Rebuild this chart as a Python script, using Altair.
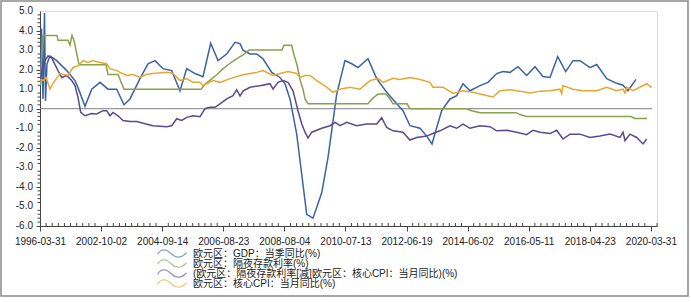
import json
import altair as alt
import pandas as pd

# x = observation index along the time axis (tick labels every 61.09 units)
tick_labels = ["1996-03-31", "2002-10-02", "2004-09-14", "2006-08-23", "2008-08-04",
               "2010-07-13", "2012-06-19", "2014-06-02", "2016-05-11", "2018-04-23", "2020-03-31"]
y_values = [-6, -5, -4, -3, -2, -1, 0, 1, 2, 3, 4, 5]
y_texts = ["-6.0", "-5.0", "-4.0", "-3.0", "-2.0", "-1.0", "0.0", "1.0", "2.0", "3.0", "4.0", "5.0"]

names = ["欧元区：GDP：当季同比(%)",
         "欧元区：隔夜存款利率(%)",
         "(欧元区：隔夜存款利率[减]欧元区：核心CPI：当月同比)(%)",
         "欧元区：核心CPI：当月同比(%)"]
colors = ["#3b63a5", "#87a24c", "#5a4a8c", "#e9a630"]

gdp_x = [0.5, 1.5, 3, 4.5, 5.5, 7, 10, 16.7, 26.7, 35, 38, 45, 51.7, 60, 68, 76.7, 84, 90, 100, 108, 115, 123,
         131.7, 140, 146.7, 155, 163, 170.7, 178, 186.7, 195, 200, 203, 210, 216.7, 223, 231.7, 240, 245, 250,
         256.7, 266.7, 273, 281.7, 288, 296.7, 305, 311.7, 318, 328, 336.7, 346.7, 356.7, 363, 370, 380, 386.7,
         392, 396.7, 401.7, 410, 416.7, 423, 430, 440, 448, 456.7, 463, 470, 478, 486.7, 495, 503, 510, 517.7,
         525.7, 533, 540, 550, 556.7, 566.7, 576.7, 583, 588, 596]
gdp_y = [1.3, 4.1, 0.5, 4.9, 0.4, 2.3, 2.7, 2.46, 1.95, 1.44, 1.08, 0.12, 1.0, 1.35, 1.0, 1.0, 0.2, 0.5, 1.54, 2.3,
         2.46, 2.05, 1.95, 0.92, 2.05, 1.8, 1.64, 3.35, 2.46, 2.8, 3.4, 3.33, 3.0, 2.8, 2.8, 2.55, 1.86, 1.6, 1.27,
         0.5, -1.3, -5.4, -5.6, -4.3, -2.5, 0.75, 2.46, 2.3, 2.1, 2.56, 1.54, 0.84, 0.25, -0.1, -0.87, -1.0, -1.4,
         -1.8, -0.96, -0.1, 0.5, 0.67, 1.28, 0.92, 1.18, 1.35, 1.8, 1.9, 1.86, 2.15, 1.7, 2.15, 1.65, 1.6, 2.67,
         1.9, 2.46, 2.46, 2.1, 2.26, 1.54, 1.3, 1.2, 0.92, 1.5]

dep_x = [0.5, 2.5, 17, 18, 28, 30, 32, 34, 36, 39, 66, 68, 78, 84, 161, 165, 171, 177, 182, 188, 195, 203, 209,
         242, 244, 251.7, 254, 257, 260, 263, 265, 268, 328, 332, 338, 346, 350, 353, 367, 370, 426.7, 431.7,
         440, 476, 480, 486.7, 591, 595, 607]
dep_y = [1.2, 3.75, 3.75, 3.5, 3.5, 3.25, 3.75, 3.5, 3.0, 2.25, 2.25, 1.75, 1.75, 1.0, 1.0, 1.25, 1.5, 1.75,
         2.0, 2.25, 2.5, 2.75, 3.0, 3.0, 3.25, 3.25, 2.75, 2.25, 1.5, 1.0, 0.5, 0.25, 0.25, 0.5, 0.75, 0.75, 0.5,
         0.25, 0.25, 0.0, 0.0, -0.1, -0.2, -0.2, -0.3, -0.4, -0.4, -0.5, -0.5]

cpi_x = [0.5, 3.3, 6, 10, 13, 20, 28, 33, 38, 43, 48, 53, 60, 66.7, 70, 76.7, 80, 86.7, 93, 100, 106, 113, 126.7,
         133, 140, 146.7, 153, 160, 163, 173, 180, 190, 200, 210, 216.7, 223, 233, 240, 248, 256.7, 260, 265,
         270, 276.7, 286.7, 293, 300, 310, 320, 330, 338, 343, 353, 360, 370, 380, 390, 393, 403, 413, 423, 433,
         443, 453, 460, 470, 480, 490, 500, 510, 520, 521.7, 523, 533, 543, 556.7, 566.7, 576.7, 583, 585,
         586.7, 593, 606.7, 611.7]
cpi_y = [1.5, 1.44, 1.6, 1.0, 1.3, 1.8, 1.7, 2.1, 2.2, 2.46, 2.37, 2.46, 2.37, 2.3, 2.05, 1.95, 1.86, 1.7, 1.75,
         1.6, 1.75, 1.8, 1.86, 1.8, 1.44, 1.54, 1.35, 1.35, 1.18, 1.44, 1.35, 1.54, 1.7, 1.8, 1.86, 1.95, 1.7,
         1.8, 1.9, 1.8, 1.6, 1.7, 1.7, 1.44, 1.1, 0.84, 1.0, 1.1, 1.0, 1.44, 1.55, 1.35, 1.56, 1.5, 1.6, 1.5,
         1.35, 1.1, 1.1, 0.78, 0.92, 0.84, 0.72, 0.6, 0.92, 0.97, 0.9, 0.8, 0.9, 0.92, 1.0, 0.77, 1.18, 1.0, 0.92,
         0.92, 1.1, 0.92, 1.0, 0.8, 1.1, 0.92, 1.28, 1.08]

gap_x = [0.5, 3, 8, 11.7, 18, 21.7, 26.7, 31.7, 35, 38, 40.7, 45, 51.7, 56.7, 63, 66.7, 70, 73, 78, 83, 90, 96.7,
         105, 113, 126.7, 131.7, 136.7, 141.7, 146.7, 153, 160, 165, 170, 175, 180, 186.7, 193, 196.7, 200, 203,
         210, 220, 230, 233, 238, 243, 248, 253, 258, 261.7, 265, 268, 271.7, 281.7, 290, 295, 300, 306.7, 316.7,
         326.7, 336.7, 341.7, 346.7, 353, 363, 370, 376.7, 386.7, 393, 400, 410, 416.7, 423, 430, 440, 450,
         456.7, 466.7, 476.7, 486.7, 493, 500, 510, 516.7, 523, 530, 540, 550, 560, 570, 580, 583, 585, 590,
         596.7, 603, 606.7]
gap_y = [1.5, 2.3, 2.7, 2.6, 1.95, 1.6, 1.7, 1.44, 1.18, 0.58, -0.19, -0.36, -0.24, -0.27, -0.1, -0.1, -0.36,
         -0.19, -0.36, -0.6, -0.65, -0.65, -0.77, -0.87, -0.92, -0.87, -0.51, -0.6, -0.44, -0.36, -0.41, 0.0,
         0.07, 0.07, 0.25, 0.5, 0.67, 0.97, 0.65, 0.9, 1.1, 1.18, 1.28, 1.0, 1.35, 1.44, 1.35, 0.92, -0.1, -0.77,
         -1.2, -1.5, -1.2, -1.0, -0.87, -0.7, -0.87, -0.7, -0.87, -0.78, -0.78, -0.46, -0.96, -1.13, -1.2, -1.6,
         -1.47, -1.4, -1.27, -1.13, -0.87, -1.0, -0.79, -1.0, -0.87, -0.92, -1.13, -1.1, -1.2, -1.33, -1.1,
         -1.2, -1.27, -1.1, -1.55, -1.3, -1.3, -1.47, -1.4, -1.3, -1.47, -1.2, -1.64, -1.3, -1.47, -1.8, -1.55]

rows = []
for name, xs_, ys_ in [(names[0], gdp_x, gdp_y), (names[1], dep_x, dep_y),
                       (names[2], gap_x, gap_y), (names[3], cpi_x, cpi_y)]:
    for i, (xv, yv) in enumerate(zip(xs_, ys_)):
        rows.append({"x": xv, "v": yv, "series": name, "o": i})
df = pd.DataFrame(rows)

STEP = 61.09
major_x = [round(STEP * i, 3) for i in range(11)]
minor_x = [round(STEP / 10 * j, 3) for j in range(102) if j % 10 != 0]
minor_y = [round(-6 + 0.2 * k, 2) for k in range(56) if k % 5 != 0]

font = "Liberation Sans, Arial, Noto Sans CJK SC"
cjk_font = "Liberation Sans, Noto Sans CJK SC"
AX = "#444"

x_axis = alt.Axis(values=major_x,
                  labelExpr=json.dumps(tick_labels) + "[round(datum.value/61.09)]",
                  labelOverlap=False, grid=False, tickSize=5, labelPadding=5, labelFontSize=10,
                  labelColor="#222", domainColor=AX, tickColor=AX, title=None, labelFont=font,
                  labelFlush=False)
y_axis = alt.Axis(values=y_values, grid=False, labels=False, tickSize=4,
                  domainColor=AX, tickColor=AX, title=None)

xs = alt.Scale(domain=[0, 617], nice=False, zero=False)
ys = alt.Scale(domain=[-6, 5], nice=False, zero=False)
cs = alt.Scale(domain=names, range=colors)

wave = "M-2.9,0.15 C-2.2,-1.0 -1.2,-1.0 -0.2,0 C0.8,1.0 1.9,1.0 2.9,-0.15"

lines = alt.Chart(df).mark_line(strokeWidth=1.5, clip=True).encode(
    x=alt.X("x:Q", scale=xs, axis=x_axis),
    y=alt.Y("v:Q", scale=ys, axis=y_axis),
    order="o:Q",
    color=alt.Color("series:N", sort=names, scale=cs, legend=None),
)

# y tick labels
ylab = alt.Chart(pd.DataFrame({"v": y_values, "t": y_texts})).mark_text(
    align="right", baseline="middle", fontSize=10, font=font, color="#222").encode(
    y=alt.Y("v:Q", scale=ys), x=alt.value(-7), text="t:N")

# minor ticks (pointing into the plot, as in the reference)
mx = alt.Chart(pd.DataFrame({"x": minor_x})).mark_rule(color=AX, strokeWidth=1).encode(
    x=alt.X("x:Q", scale=xs), y=alt.value(215), y2=alt.value(212))
my = alt.Chart(pd.DataFrame({"v": minor_y})).mark_rule(color=AX, strokeWidth=1).encode(
    y=alt.Y("v:Q", scale=ys), x=alt.value(0), x2=alt.value(-2.5))

zero_df = pd.DataFrame({"x": [0.0], "x2": [612.0], "v": [0.0]})
zero = alt.Chart(zero_df).mark_rule(color="#7f7f7f", strokeWidth=1).encode(
    x=alt.X("x:Q", scale=xs), x2="x2:Q", y=alt.Y("v:Q", scale=ys))

# legend: wavy line symbol + label per series, stacked tightly below the axis
legend_layers = []
for i, name in enumerate(names):
    ld = pd.DataFrame({"series": [name]})
    legend_layers.append(
        alt.Chart(ld).mark_point(shape=wave, size=100, filled=False, strokeWidth=1.2, opacity=0.6).encode(
            x=alt.value(132), y=alt.value(242.5 + 10 * i),
            color=alt.Color("series:N", scale=cs, legend=None)))
    legend_layers.append(
        alt.Chart(ld).mark_text(align="left", baseline="middle", fontSize=10, font=cjk_font,
                                color="#222").encode(
            x=alt.value(153), y=alt.value(243 + 10 * i), text="series:N"))

frame = alt.Chart(pd.DataFrame({"a": [0]})).mark_rect(fillOpacity=0, stroke="#8a8a8a", strokeWidth=1.5).encode(
    x=alt.value(-39), x2=alt.value(648), y=alt.value(-10), y2=alt.value(285))

chart = alt.layer(zero, lines, mx, my, ylab, *legend_layers, frame).properties(
    width=617, height=215,
    autosize=alt.AutoSizeParams(type="none"),
    padding={"left": 40, "top": 11, "right": 34, "bottom": 76},
).configure_view(stroke=None).configure(background="white")

chart.save("out.html", embed_options={"renderer": "svg", "actions": False})
